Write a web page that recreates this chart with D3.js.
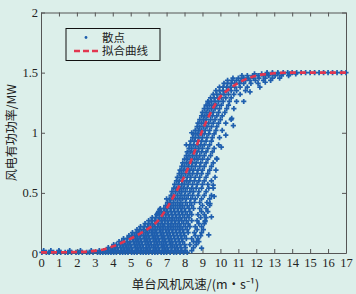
<!DOCTYPE html>
<html>
<head>
<meta charset="utf-8">
<script src="https://cdn.jsdelivr.net/npm/d3@7"></script>
<style>
  body { margin: 0; background: #dcefea; }
  svg { display: block; }
</style>
</head>
<body>
<div id="chart"></div>
<script>
// fitted curve (wind speed m/s -> power MW)
const curveSpeed = [0, 1, 2, 3, 3.5, 4, 4.5, 5, 5.5, 6, 6.5, 7, 7.5, 8, 8.5, 9, 9.5, 10, 10.5, 11, 11.5, 12, 12.5, 13, 13.5, 14, 15, 16, 17];
const curvePower = [0.005, 0.006, 0.008, 0.018, 0.03, 0.055, 0.085, 0.12, 0.16, 0.205, 0.265, 0.37, 0.5, 0.64, 0.82, 1.02, 1.18, 1.3, 1.365, 1.415, 1.45, 1.475, 1.487, 1.495, 1.499, 1.5, 1.5, 1.5, 1.5];

// scatter: power level of each strip and the wind speeds seen in it
const rowPower = [0.006, 0.02, 0.045, 0.07, 0.095, 0.12, 0.145, 0.17, 0.195, 0.22, 0.245, 0.27, 0.295, 0.32, 0.345, 0.37,
  0.395, 0.42, 0.45, 0.48, 0.51, 0.54, 0.57, 0.6, 0.63, 0.66, 0.69, 0.72, 0.75, 0.78, 0.81, 0.84, 0.87, 0.9, 0.93, 0.96,
  0.99, 1.02, 1.05, 1.08, 1.11, 1.14, 1.17, 1.2, 1.23, 1.26, 1.29, 1.32, 1.35, 1.38, 1.41, 1.435, 1.455, 1.475, 1.49, 1.5];
const rowSpeeds = [
  [0.05,0.3,0.45,0.7,0.9,1.1,1.35,1.5,1.7,1.95,2.1,2.3,2.55,2.7,2.9,3.15,3.3,3.45,3.6,3.75,3.9,4.05,4.2,4.4,4.55,4.7,4.85,5.05,5.2,5.35,5.55,5.7,5.85,6.0,6.2,6.35,6.5,6.7,6.85,7.0,7.2,7.4,7.55,7.75,7.95,8.15],
  [0.15,0.55,1.0,1.6,2.2,2.8,3.25,3.5,3.7,3.85,4.0,4.15,4.3,4.5,4.65,4.8,4.95,5.1,5.3,5.45,5.6,5.8,5.95,6.1,6.3,6.45,6.6,6.8,6.95,7.1,7.3,7.5,7.65,7.85,8.05,8.4],
  [3.75,3.95,4.1,4.25,4.45,4.6,4.75,4.9,5.05,5.25,5.4,5.55,5.7,5.9,6.05,6.25,6.4,6.55,6.75,6.9,7.05,7.25,7.45,7.6,7.8,8.05,8.5],
  [4.05,4.2,4.4,4.55,4.7,4.85,5.0,5.2,5.35,5.5,5.65,5.85,6.0,6.15,6.35,6.5,6.7,6.85,7.0,7.2,7.35,7.55,7.75,8.0,8.3,8.65],
  [4.35,4.5,4.65,4.8,4.95,5.15,5.3,5.45,5.6,5.8,5.95,6.1,6.3,6.45,6.6,6.8,6.95,7.15,7.3,7.5,7.7,7.9,8.5,8.8],
  [4.6,4.8,4.95,5.1,5.25,5.4,5.55,5.75,5.9,6.05,6.25,6.4,6.55,6.75,6.9,7.1,7.25,7.45,7.65,7.85,8.1,8.4,8.75],
  [4.9,5.05,5.2,5.35,5.5,5.7,5.85,6.0,6.2,6.35,6.5,6.7,6.85,7.05,7.2,7.4,7.6,7.8,8.0,8.6,8.9],
  [5.1,5.3,5.45,5.6,5.8,5.95,6.15,6.3,6.45,6.65,6.8,7.0,7.15,7.35,7.55,7.75,7.95,8.2,8.55,8.95],
  [5.35,5.5,5.7,5.9,6.05,6.2,6.4,6.6,6.75,6.95,7.1,7.3,7.5,7.7,7.9,8.15,8.7,9.05],
  [5.55,5.75,5.95,6.1,6.3,6.5,6.65,6.85,7.05,7.2,7.4,7.6,7.8,8.05,8.3,8.6,8.95],
  [5.8,6.0,6.2,6.35,6.55,6.75,6.9,7.1,7.3,7.5,7.7,7.95,8.2,8.8,9.1],
  [6.0,6.15,6.35,6.55,6.7,6.9,7.05,7.25,7.45,7.65,7.85,8.1,8.4,8.7,9.15],
  [6.2,6.4,6.6,6.8,6.95,7.15,7.35,7.55,7.75,8.0,8.25,8.9,9.2],
  [6.45,6.6,6.75,6.95,7.1,7.3,7.5,7.7,7.9,8.15,8.4,8.75,9.1],
  [6.55,6.7,6.9,7.05,7.25,7.45,7.65,7.85,8.05,8.3,8.95,9.3],
  [6.65,6.85,7.0,7.2,7.4,7.6,7.8,8.0,8.25,8.5,8.85,9.2],
  [6.95,7.1,7.3,7.5,7.7,7.9,8.15,8.4,9.0,9.4],
  [7.05,7.2,7.4,7.6,7.8,8.05,8.3,8.55,8.85,9.25],
  [7.15,7.3,7.5,7.7,7.9,8.1,8.35,8.6,8.95,9.4],
  [7.25,7.4,7.6,7.8,8.0,8.2,8.45,8.75,9.1,9.5],
  [7.3,7.5,7.7,7.85,8.05,8.3,8.5,8.8,9.2],
  [7.4,7.55,7.75,7.95,8.15,8.4,8.65,8.95,9.35,9.6],
  [7.45,7.65,7.85,8.0,8.2,8.45,8.7,9.0,9.3],
  [7.55,7.7,7.9,8.1,8.3,8.55,8.8,9.1,9.5],
  [7.6,7.8,7.95,8.15,8.35,8.6,8.85,9.2,9.7],
  [7.7,7.85,8.05,8.25,8.45,8.7,8.95,9.3],
  [7.75,7.95,8.1,8.3,8.5,8.75,9.0,9.4,9.75],
  [7.85,8.0,8.2,8.4,8.6,8.85,9.1,9.5],
  [7.9,8.1,8.25,8.45,8.65,8.9,9.2,9.6],
  [8.0,8.15,8.35,8.55,8.75,9.0,9.3,9.8],
  [8.1,8.25,8.45,8.65,8.85,9.1,9.45],
  [8.15,8.35,8.5,8.7,8.95,9.2,9.55],
  [8.25,8.4,8.6,8.8,9.0,9.3,9.65],
  [8.3,8.5,8.7,8.9,9.1,9.4,9.9],
  [8.35,8.55,8.75,8.95,9.2,9.5],
  [8.45,8.6,8.8,9.0,9.25,9.55,9.95],
  [8.5,8.7,8.9,9.1,9.35,9.65],
  [8.6,8.8,8.95,9.15,9.4,9.75,10.1],
  [8.7,8.85,9.05,9.25,9.5,9.8],
  [8.75,8.95,9.15,9.35,9.6,9.9,10.3],
  [8.85,9.05,9.2,9.45,9.7,10.0,10.6],
  [8.95,9.1,9.3,9.55,9.8,10.1],
  [9.0,9.2,9.4,9.6,9.9,10.25],
  [9.1,9.3,9.5,9.7,9.95,10.35,10.75],
  [9.2,9.4,9.6,9.8,10.05,10.45],
  [9.3,9.5,9.7,9.9,10.15,10.5,10.9],
  [9.45,9.65,9.85,10.05,10.3,10.6],
  [9.6,9.8,10.0,10.2,10.45,10.75,11.1],
  [9.75,9.95,10.15,10.35,10.6,10.9,11.4],
  [9.95,10.15,10.35,10.55,10.8,11.1,11.5,12.2],
  [10.2,10.4,10.6,10.8,11.05,11.3,11.7,12.1],
  [10.4,10.65,10.9,11.15,11.4,11.65,11.95,12.4,12.8],
  [10.7,11.0,11.3,11.55,11.85,12.15,12.5,12.9,13.3],
  [11.2,11.5,11.8,12.1,12.4,12.7,13.05,13.4,13.8],
  [11.9,12.3,12.6,12.9,13.2,13.5,13.85,14.2],
  [12.6,12.9,13.2,13.5,13.75,14.0,14.25,14.5,14.75,15.0,15.25,15.5,15.75,16.0,16.25,16.5,16.75,17.0]
];
// loose points off the main cloud
const loosePts = [[8.68,0.094],[9.14,0.26],[9.42,0.41],[9.6,0.564],[9.79,0.786],[10.72,1.06],[10.63,1.12],
  [9.5,0.3],[9.35,0.15],[8.95,0.04],[9.65,0.47],[10.05,0.88],[10.3,0.98],[11.3,1.26],[11.65,1.34],[12.5,1.42],
  [6.62,0.36],[6.5,0.33],[7.0,0.45],[8.1,0.9],[8.4,1.0],[9.33,1.256]];

const xTicks = d3.range(0, 18);
const yTicks = [0, 0.5, 1, 1.5, 2];
const legendNames = ["散点", "拟合曲线"];

const scatterPts = rowPower.flatMap((p, i) => rowSpeeds[i].map(s => [s, p])).concat(loosePts);

const margin = {top: 12.5, right: 10, bottom: 41, left: 41},
  width = 356 - margin.left - margin.right,
  height = 294 - margin.top - margin.bottom;

const blue = "#1f5fae", red = "#e2364f", axisCol = "#555";
const serif = "'Liberation Serif', 'DejaVu Serif', serif";
const cjk = "'Noto Sans CJK SC', sans-serif";

const svg = d3.select("#chart")
  .append("svg")
    .attr("width", 356)
    .attr("height", 294)
  .append("g")
    .attr("transform", `translate(${margin.left},${margin.top})`);

const x = d3.scaleLinear().domain([0, 17]).range([0, width]);
const y = d3.scaleLinear().domain([0, 2]).range([height, 0]);

// axes, ticks pointing inward on all four sides
const styleAxis = g => {
  g.select(".domain").attr("stroke", axisCol);
  g.selectAll(".tick line").attr("stroke", axisCol);
  g.selectAll("text").attr("fill", "#222").style("font-family", serif).style("font-size", "12.5px");
};
svg.append("g")
  .attr("transform", `translate(0,${height})`)
  .call(d3.axisBottom(x).tickValues(xTicks).tickSizeInner(-4).tickSizeOuter(0).tickPadding(5).tickFormat(d3.format("d")))
  .call(styleAxis);
svg.append("g")
  .call(d3.axisTop(x).tickValues(xTicks).tickSizeInner(-4).tickSizeOuter(0).tickFormat(""))
  .call(styleAxis);
svg.append("g")
  .call(d3.axisLeft(y).tickValues(yTicks).tickSizeInner(-4).tickSizeOuter(0).tickPadding(3).tickFormat(d3.format("")))
  .call(styleAxis);
svg.append("g")
  .attr("transform", `translate(${width},0)`)
  .call(d3.axisRight(y).tickValues(yTicks).tickSizeInner(-4).tickSizeOuter(0).tickFormat(""))
  .call(styleAxis);

// scatter
const cross = d3.symbol(d3.symbolCross, 15);
svg.append("g")
  .selectAll("path")
  .data(scatterPts)
  .join("path")
    .attr("transform", d => `translate(${x(d[0])},${y(d[1])})`)
    .attr("d", cross)
    .attr("fill", blue);

// fitted curve
const line = d3.line()
  .x((d, i) => x(curveSpeed[i]))
  .y(d => y(d))
  .curve(d3.curveMonotoneX);
svg.append("path")
  .datum(curvePower)
  .attr("d", line)
  .attr("fill", "none")
  .attr("stroke", red)
  .attr("stroke-width", 2.6)
  .attr("stroke-dasharray", "6,4");

// legend
const lg = svg.append("g").attr("transform", "translate(25,16)");
lg.append("rect")
  .attr("width", 94).attr("height", 32)
  .attr("fill", "none").attr("stroke", "#111").attr("stroke-width", 1);
lg.append("circle").attr("cx", 20).attr("cy", 9).attr("r", 1.4).attr("fill", blue);
lg.append("line").attr("x1", 8).attr("x2", 34).attr("y1", 22.5).attr("y2", 22.5)
  .attr("stroke", red).attr("stroke-width", 2.6).attr("stroke-dasharray", "6,3");
lg.append("text")
  .style("font-family", cjk)
  .style("font-size", "11.5px")
  .attr("fill", "#222")
  .selectAll("tspan")
  .data(legendNames)
  .join("tspan")
    .attr("x", 36)
    .attr("y", (d, i) => 13 + i * 13.5)
    .text(d => d);

// axis titles
svg.append("text")
  .attr("x", width / 2 + 2)
  .attr("y", height + 30)
  .attr("dominant-baseline", "central")
  .attr("text-anchor", "middle")
  .style("font-family", cjk)
  .style("font-size", "12.5px")
  .attr("fill", "#222")
  .text("单台风机风速/(m·s⁻¹)");
svg.append("text")
  .attr("transform", `translate(-31,${height / 2}) rotate(-90)`)
  .attr("text-anchor", "middle")
  .attr("dominant-baseline", "central")
  .style("font-family", cjk)
  .style("font-size", "12px")
  .attr("fill", "#222")
  .text("风电有功功率/MW");
</script>
</body>
</html>
